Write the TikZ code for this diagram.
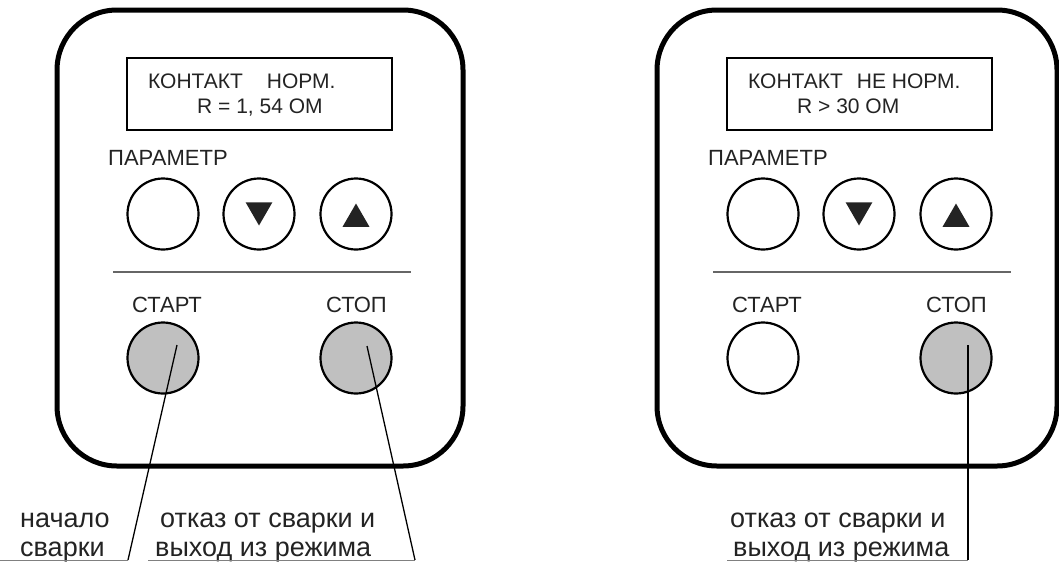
\documentclass[tikz,border=0pt]{standalone}
\usepackage{fontspec}
\setmainfont{Liberation Sans}
\usetikzlibrary{shapes.geometric}
\definecolor{btngray}{RGB}{192,192,192}
\definecolor{inkgray}{RGB}{35,35,35}

\begin{document}
\begin{tikzpicture}[
                    x=1pt, y=-1pt,
                    text=inkgray,
                    panel/.style={line width=5pt, rounded corners=60pt},
                    screen/.style={draw, line width=2.2pt, minimum width=265pt, minimum height=72pt},
                    btn/.style={circle, draw, line width=2.2pt, minimum size=71pt, inner sep=0pt},
                    btnon/.style={btn, fill=btngray},
                    arrowdn/.style={regular polygon, regular polygon sides=3, shape border rotate=180,
                        fill=inkgray, minimum size=31pt, inner sep=0pt},
                    arrowup/.style={arrowdn, shape border rotate=0},
                    lbl/.style={font=\fontsize{22}{26}\selectfont, anchor=base west, inner sep=0pt},
                    disptext/.style={lbl, font=\fontsize{21}{25}\selectfont},
                    note/.style={font=\fontsize{27}{32}\selectfont, anchor=base west, inner sep=0pt},
                    divider/.style={draw=gray!80!black, line width=1.2pt},
                    leader/.style={line width=1.3pt},
                    footline/.style={draw=gray, line width=1pt}
                ]
    \useasboundingbox (0,0) rectangle (1059,562);

    \draw[panel] (57,10) rectangle (463,466);
    \node[screen] (dispL) at (259.5,94) {};
    \node[disptext] (dispL1) at (148,88) {КОНТАКТ\hspace{24pt}НОРМ.};
    \node[disptext] (dispL2) at (197,113) {R = 1, 54 ОМ};
    \node[lbl] (parL) at (108,165) {ПАРАМЕТР};
    \node[btn] (parbtnL) at (163,214) {};
    \node[btn] (downL) at (259,214) {};
    \node[btn] (upL) at (356,214) {};
    \node[arrowdn] (downtriL) at (259,210) {};
    \node[arrowup] (uptriL) at (356,219) {};
    \coordinate (divLa) at (113,272);
    \coordinate (divLb) at (411,272);
    \draw[divider] (divLa) -- (divLb);
    \node[lbl] (startlblL) at (132,312) {СТАРТ};
    \node[lbl] (stoplblL) at (326,312) {СТОП};
    \node[btnon] (startL) at (163,358) {};
    \node[btnon] (stopL) at (356,358) {};

    \draw[panel] (657,10) rectangle (1057,466);
    \node[screen] (dispR) at (859.5,94) {};
    \node[disptext] (dispR1) at (748,88) {КОНТАКТ\hspace{14pt}НЕ НОРМ.};
    \node[disptext] (dispR2) at (797,113) {R > 30 ОМ};
    \node[lbl] (parR) at (708,165) {ПАРАМЕТР};
    \node[btn] (parbtnR) at (763,214) {};
    \node[btn] (downR) at (859,214) {};
    \node[btn] (upR) at (956,214) {};
    \node[arrowdn] (downtriR) at (859,210) {};
    \node[arrowup] (uptriR) at (956,219) {};
    \coordinate (divRa) at (713,272);
    \coordinate (divRb) at (1011,272);
    \draw[divider] (divRa) -- (divRb);
    \node[lbl] (startlblR) at (732,312) {СТАРТ};
    \node[lbl] (stoplblR) at (926,312) {СТОП};
    \node[btn] (startR) at (763,358) {};
    \node[btnon] (stopR) at (956,358) {};

    \node[note] (beginA) at (20,527) {начало};
    \node[note] (beginB) at (20,556) {сварки};
    \node[note] (quitLA) at (160,527) {отказ от сварки и};
    \node[note] (quitLB) at (155,556) {выход из режима};
    \node[note] (quitRA) at (730,527) {отказ от сварки и};
    \node[note] (quitRB) at (733,556) {выход из режима};

    \coordinate (tipA) at ([shift={(14,-13)}]startL.center);
    \coordinate (footA) at (128,560);
    \coordinate (endA) at (0,560);
    \coordinate (tipB) at ([shift={(11,-12)}]stopL.center);
    \coordinate (footB) at (415,560);
    \coordinate (endB) at (148,560);
    \coordinate (tipC) at ([shift={(12,-13)}]stopR.center);
    \coordinate (footC) at (968,560);
    \coordinate (endC) at (727,560);
    \draw[footline] (endA) -- (footA);
    \draw[footline] (endB) -- (footB);
    \draw[footline] (endC) -- (footC);
    \draw[leader] (tipA) -- (footA);
    \draw[leader] (tipB) -- (footB);
    \draw[leader] (tipC) -- (footC);
\end{tikzpicture}
\end{document}
